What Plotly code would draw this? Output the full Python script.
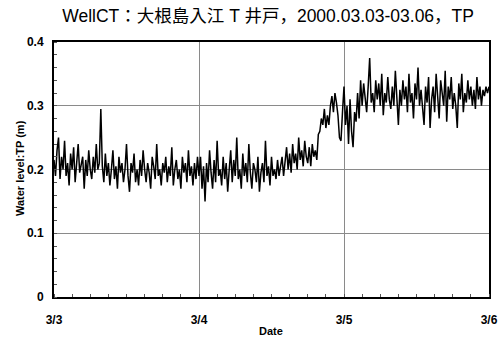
import pandas as pd
import plotly.graph_objects as go

# Water level (cm, TP), 15-minute steps from 2000-03-03 00:00 to 2000-03-06 00:00
day1_cm = [21.5, 19, 23, 25, 18.5, 22, 20, 24.5, 19, 21, 17.5, 22.5, 20, 23.5, 18, 21, 24, 19.5, 20.5, 22,
           17, 21.5, 19, 23, 20, 18.5, 22, 19.5, 24, 20, 21, 29.5, 20.5, 18, 22.5, 19, 21, 17.5, 20, 23,
           18.5, 20.5, 17, 22, 19.5, 21, 18, 20, 24, 19, 16.5, 21, 19.5, 22.5, 18, 20, 17.5, 21.5, 19, 23,
           20, 18, 21, 19.5, 17, 22, 20.5, 18.5, 24, 19, 20, 17.5, 21, 19.5, 22, 18, 20.5, 19, 23.5, 17.5,
           20, 21.5, 18.5, 20, 17, 22, 19.5, 21, 18, 23, 19, 20.5, 17.5, 21, 18.5, 22]
day2_cm = [19, 22, 17, 20.5, 15, 21, 18, 23, 19.5, 17, 21.5, 18, 24.5, 19, 20, 17.5, 22, 18.5, 21, 16.5,
           20, 23, 18, 21.5, 19, 25, 18.5, 20, 17, 22.5, 19, 21, 18, 24, 19.5, 17, 21, 20, 18, 22,
           16.5, 19.5, 21, 18, 24.5, 19, 20.5, 17.5, 22, 19, 20, 18.5, 21.5, 19, 20.5,
           22, 19, 21.5, 23.5, 20, 22.5, 19.5, 24, 21, 22.5, 20, 25, 21.5, 23, 20.5, 24.5, 22, 21, 23.5, 20.5,
           24, 22, 23, 21.5, 25.5,
           26, 28, 27, 29.5, 26.5, 28.5, 27, 30, 31.5, 29, 32, 30.5, 28.5, 25, 24.5, 29]
day3_cm = [33, 27, 30, 24, 31, 26, 23.5, 29, 27.5, 32, 28, 34, 30, 33.5, 31, 29, 33, 37.5, 30.5, 32,
           29, 34, 31, 33.5, 30, 35, 28.5, 32, 30.5, 34.5, 31, 29.5, 33, 30, 35.5, 31.5, 27, 32.5, 30, 34,
           31, 33, 29, 35, 30.5, 32, 28, 33.5, 31, 36, 30, 32.5, 29.5, 27, 33, 30.5, 34.5, 26.5, 31, 33,
           29, 35, 31.5, 28, 34, 32, 30, 35.5, 27.5, 33, 31, 34.5, 29.5, 32, 30, 26.5, 33.5, 31, 35, 29,
           32, 30.5, 34, 31, 33, 30, 32.5, 29.5, 34.5, 31, 33, 30, 32.5, 31.5, 33, 32, 33]

level_cm = day1_cm + day2_cm + day3_cm
level_m = [v / 100 for v in level_cm]
times = pd.date_range("2000-03-03 00:00", "2000-03-06 00:00", periods=len(level_m))

x_tick_vals = ["2000-03-03", "2000-03-04", "2000-03-05", "2000-03-06"]
x_tick_labels = ["3/3", "3/4", "3/5", "3/6"]
y_tick_vals = [0, 0.1, 0.2, 0.3, 0.4]
y_tick_labels = ["0", "0.1", "0.2", "0.3", "0.4"]

fig = go.Figure(go.Scatter(x=times, y=level_m, mode="lines",
                           line=dict(color="black", width=1.5)))

lat = "Liberation Sans, Arial, sans-serif"
tick_font = dict(family=lat, size=12, color="black", weight="bold")
label_font = dict(family=lat, size=11, color="black", weight="bold")

fig.update_layout(
    width=504, height=342,
    margin=dict(l=54, r=15, t=42, b=45),
    paper_bgcolor="white", plot_bgcolor="white",
    showlegend=False,
    title=dict(text="WellCT：大根島入江 T 井戸，2000.03.03-03.06，TP",
               font=dict(family="Liberation Sans, Noto Sans CJK JP, sans-serif", size=17.5, color="black"),
               x=0.532, xanchor="center", y=0.955, yanchor="middle"),
    annotations=[
        dict(text="Date", xref="paper", yref="paper", x=0.499, y=-0.133,
             xanchor="center", yanchor="middle", showarrow=False, font=label_font),
        dict(text="Water level:TP (m)", xref="paper", yref="paper", x=-0.078, y=0.506,
             xanchor="center", yanchor="middle", textangle=-90, showarrow=False, font=label_font),
    ],
)
fig.update_xaxes(
    range=["2000-03-03", "2000-03-06"], automargin=False,
    tickvals=x_tick_vals, ticktext=x_tick_labels,
    tickfont=tick_font, ticks="", ticklabelstandoff=11,
    showgrid=True, gridcolor="#8a8a8a", gridwidth=1,
    showline=True, linecolor="black", linewidth=2, mirror=True,
    zeroline=False,
    minor=dict(dtick=3 * 3600000, ticks="inside", ticklen=3, tickcolor="#555", showgrid=False),
)
fig.update_yaxes(
    range=[0, 0.4], automargin=False,
    tickvals=y_tick_vals, ticktext=y_tick_labels,
    tickfont=tick_font, ticks="", ticklabelstandoff=6,
    showgrid=True, gridcolor="#8a8a8a", gridwidth=1,
    showline=True, linecolor="black", linewidth=2, mirror=True,
    zeroline=False,
    minor=dict(dtick=0.02, ticks="inside", ticklen=3, tickcolor="#555", showgrid=False),
)

fig.write_html("out.html")
